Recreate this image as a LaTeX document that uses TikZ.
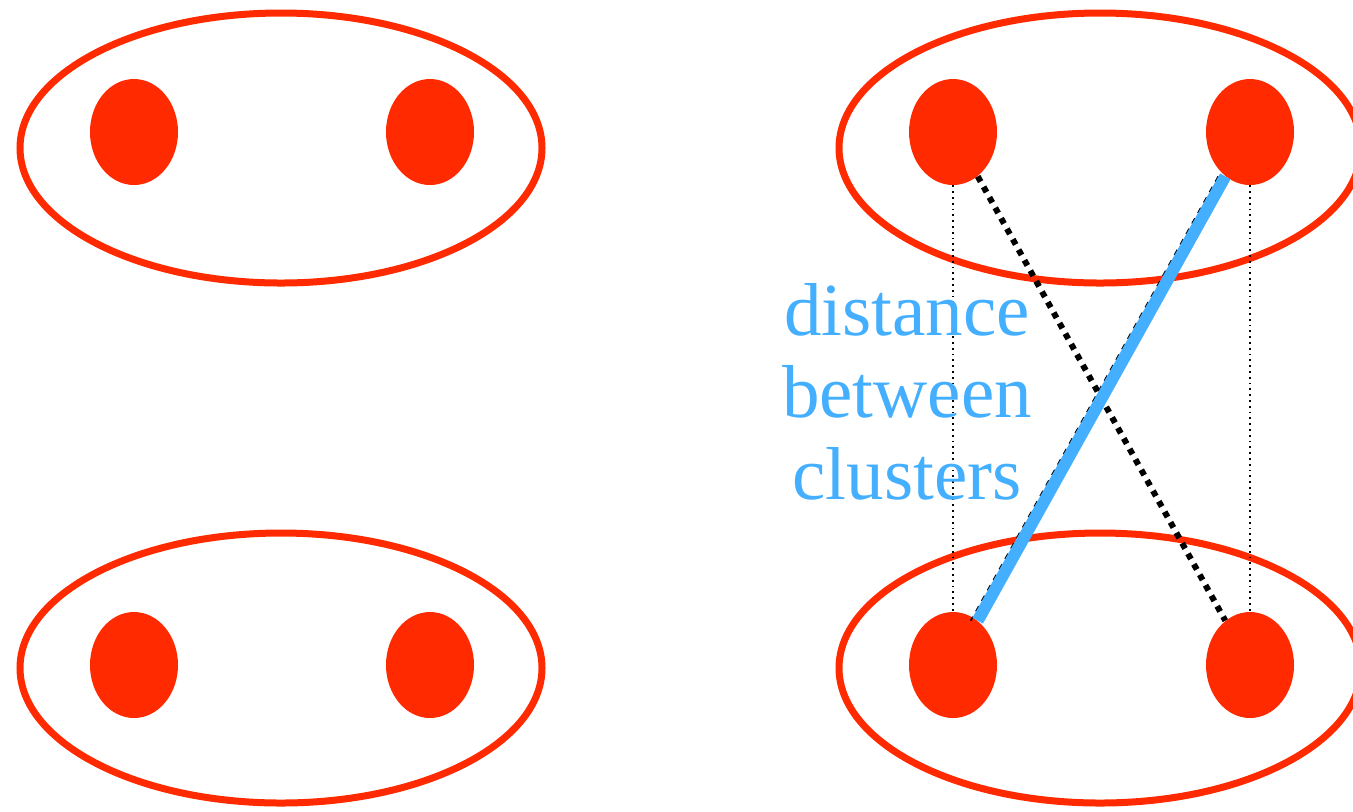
\documentclass[tikz,border=0pt]{standalone}
\usepackage{fontspec}
\setmainfont{Liberation Serif}
\usetikzlibrary{shapes.geometric}
\definecolor{clusline}{HTML}{FF2A00}
\definecolor{distblue}{HTML}{45AFFF}

\begin{document}
\begin{tikzpicture}[x=.5pt,y=-.5pt,
 clus/.style={ellipse,draw=clusline,line width=3.5pt,minimum width=261pt,minimum height=135pt,inner sep=0pt},
 pt/.style={ellipse,fill=clusline,minimum width=44pt,minimum height=53pt,inner sep=0pt},
 thindot/.style={draw=black,line width=.9pt,dotted},
 thickdot/.style={draw=black,line width=3pt,dash pattern=on 3pt off 3pt},
 dist/.style={draw=distblue,line width=6pt}]
\useasboundingbox (0,0) rectangle (1353,811);
\clip (0,0) rectangle (1353,811);
% left picture
\node[clus] (lt) at (281,148) {};
\node[clus] (lb) at (281,668) {};
\node[pt] (lt1) at (134,132) {};
\node[pt] (lt2) at (430,132) {};
\node[pt] (lb1) at (134,665) {};
\node[pt] (lb2) at (430,665) {};
% right picture
\node[clus] (rt) at (1100,148) {};
\node[clus] (rb) at (1100,668) {};
\node[pt] (rt1) at (953,132) {};
\node[pt] (rt2) at (1250,132) {};
\node[pt] (rb1) at (953,665) {};
\node[pt] (rb2) at (1250,665) {};
\draw[thindot] (rt1) -- (rb1);
\draw[thindot] (rt2) -- (rb2);
\draw[thickdot] (rt1) -- (rb2);
\draw[draw=black,line width=.8pt,dashed,transform canvas={xshift=-3.5pt}] (rt2) -- (rb1);
\draw[dist] (rt2) -- (rb1);
\node[text=distblue,align=center,font=\fontsize{37.5}{41}\selectfont] (lbl) at (907,392)
 {distance\\between\\clusters};
\end{tikzpicture}
\end{document}
